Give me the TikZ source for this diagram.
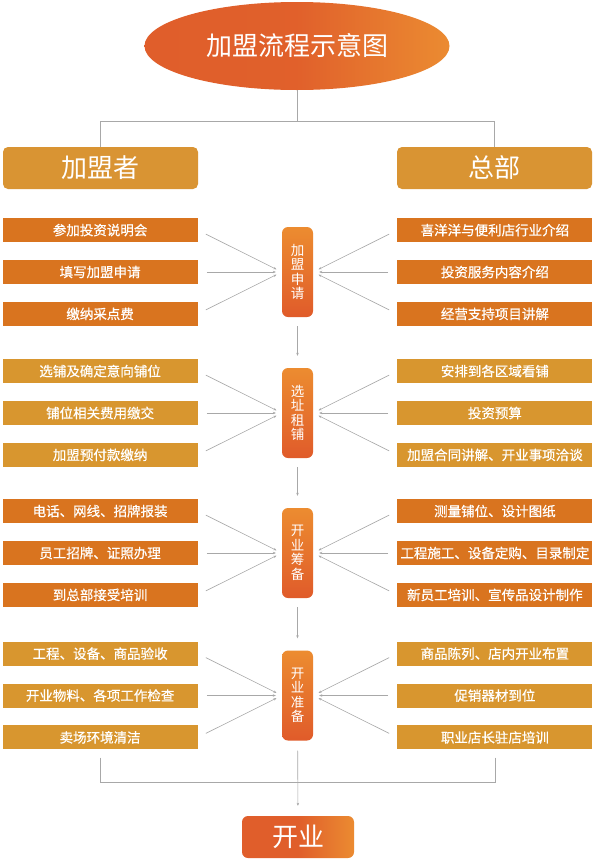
\documentclass[tikz,border=0pt]{standalone}
\usepackage{fontspec}
\setmainfont{Noto Sans CJK SC}
\newfontfamily\itemfont{Noto Sans CJK SC}[FakeBold=0.6]
\usepackage{xcolor}
\usepackage{tikz}
\usetikzlibrary{shapes.geometric, arrows.meta, positioning}
\definecolor{itemorange}{HTML}{D9741F}
\definecolor{itemgold}{HTML}{D8962F}
\definecolor{headgold}{HTML}{D99433}
\definecolor{stagetop}{HTML}{EC8C30}
\definecolor{stagebot}{HTML}{E05B2A}
\definecolor{warmred}{HTML}{E05E2B}
\definecolor{warmorange}{HTML}{EB8B31}
\definecolor{linegray}{HTML}{A8A8A8}
\tikzstyle{orangebox} = [rectangle, minimum width=195pt, minimum height=24pt, inner sep=0pt,
  fill=itemorange, text=white, font=\itemfont\fontsize{13.5}{16}\selectfont]
\tikzstyle{goldbox} = [rectangle, minimum width=195pt, minimum height=24pt, inner sep=0pt,
  fill=itemgold, text=white, font=\itemfont\fontsize{13.5}{16}\selectfont]
\tikzstyle{headbox} = [rectangle, rounded corners=5pt, minimum width=195pt, minimum height=42pt,
  inner sep=0pt, fill=headgold, text=white, font=\fontsize{26}{28}\selectfont]
\tikzstyle{stagebox} = [rectangle, rounded corners=6pt, minimum width=31pt, minimum height=90pt,
  inner sep=0pt, top color=stagetop, bottom color=stagebot, text=white, align=center,
  font=\fontsize{13.5}{14.5}\selectfont]
\tikzstyle{link} = [draw=linegray, line width=0.6pt]
\tikzstyle{arrow} = [link, -{Stealth[length=3pt,width=2.5pt]}]

\begin{document}
\begin{tikzpicture}[x=1pt, y=-1pt]
  \fill[white] (0,0) rectangle (601,865);
  \useasboundingbox (0,0) rectangle (601,865);

  % Title and the two sides
  \node (title) [ellipse, minimum width=305pt, minimum height=88pt, inner sep=0pt,
    left color=warmred, right color=warmorange, middle color=warmred!95!warmorange,
    text=white, font=\fontsize{26}{28}\selectfont] at (297,46) {加盟流程示意图};
  \node (hl) [headbox] at (100.5,168) {加盟者};
  \node (hr) [headbox] at (494.5,168) {总部};
  \coordinate (tj) at (297,121);

  % Stages down the middle
  \node (s1) [stagebox] at (297.5,272) {加\\盟\\申\\请};
  \node (s2) [stagebox] at (297.5,413) {选\\址\\租\\铺};
  \node (s3) [stagebox] at (297.5,553) {开\\业\\筹\\备};
  \node (s4) [stagebox] at (297.5,695.5) {开\\业\\准\\备};

  % Stage 1
  \node (l12) [orangebox, left=84pt of s1] {填写加盟申请};
  \node (l11) [orangebox, above=17.5pt of l12] {参加投资说明会};
  \node (l13) [orangebox, below=17.5pt of l12] {缴纳采点费};
  \node (r12) [orangebox, right=84pt of s1] {投资服务内容介绍};
  \node (r11) [orangebox, above=17.5pt of r12] {喜洋洋与便利店行业介绍};
  \node (r13) [orangebox, below=17.5pt of r12] {经营支持项目讲解};

  % Stage 2
  \node (l22) [goldbox, left=84pt of s2] {铺位相关费用缴交};
  \node (l21) [goldbox, above=17.5pt of l22] {选铺及确定意向铺位};
  \node (l23) [goldbox, below=17.5pt of l22] {加盟预付款缴纳};
  \node (r22) [goldbox, right=84pt of s2] {投资预算};
  \node (r21) [goldbox, above=17.5pt of r22] {安排到各区域看铺};
  \node (r23) [goldbox, below=17.5pt of r22] {加盟合同讲解、开业事项洽谈};

  % Stage 3
  \node (l32) [orangebox, left=84pt of s3] {员工招牌、证照办理};
  \node (l31) [orangebox, above=17.5pt of l32] {电话、网线、招牌报装};
  \node (l33) [orangebox, below=17.5pt of l32] {到总部接受培训};
  \node (r32) [orangebox, right=84pt of s3] {工程施工、设备定购、目录制定};
  \node (r31) [orangebox, above=17.5pt of r32] {测量铺位、设计图纸};
  \node (r33) [orangebox, below=17.5pt of r32] {新员工培训、宣传品设计制作};

  % Stage 4
  \node (l42) [goldbox, left=84pt of s4] {开业物料、各项工作检查};
  \node (l41) [goldbox, above=17.5pt of l42] {工程、设备、商品验收};
  \node (l43) [goldbox, below=17.5pt of l42] {卖场环境清洁};
  \node (r42) [goldbox, right=84pt of s4] {促销器材到位};
  \node (r41) [goldbox, above=17.5pt of r42] {商品陈列、店内开业布置};
  \node (r43) [goldbox, below=17.5pt of r42] {职业店长驻店培训};

  % Opening
  \node (open) [rectangle, rounded corners=6pt, minimum width=112pt, minimum height=42pt,
    inner sep=0pt, left color=warmred, right color=warmorange, middle color=warmred,
    text=white, font=\fontsize{26}{28}\selectfont] at (298,837) {开业};
  \coordinate (bj) at (297,782);

  \draw[link] (title) -- (tj);
  \draw[link] (tj) -| (hl);
  \draw[link] (tj) -| (hr);
  \foreach \g in {1,...,4}
    \foreach \i in {1,2,3} {
      \draw[arrow, shorten <=9pt, shorten >=6pt] (l\g\i.east) -- (s\g.west);
      \draw[arrow, shorten <=9pt, shorten >=6pt] (r\g\i.west) -- (s\g.east);
    }
  \draw[arrow, shorten <=9pt, shorten >=12pt] (s1) -- (s2);
  \draw[arrow, shorten <=9pt, shorten >=12pt] (s2) -- (s3);
  \draw[arrow, shorten <=9pt, shorten >=12pt] (s3) -- (s4);
  \draw[link, shorten <=8pt] (l43.south) |- (bj);
  \draw[link, shorten <=8pt] (r43.south) |- (bj);
  \draw[arrow, shorten <=10pt, shorten >=10pt] (s4) -- (open);
\end{tikzpicture}
\end{document}
